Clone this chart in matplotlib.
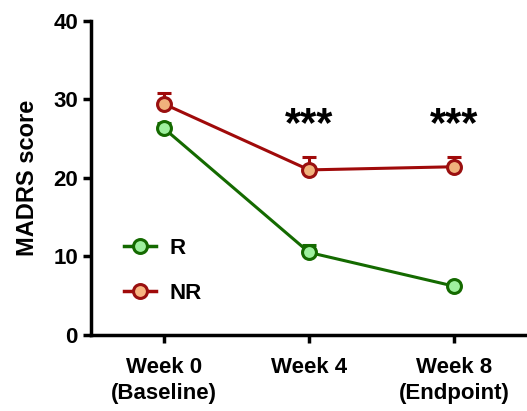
import matplotlib
matplotlib.use("Agg")
import matplotlib.pyplot as plt
from matplotlib.lines import Line2D

# values
weeks = ["Week 0\n(Baseline)", "Week 4", "Week 8\n(Endpoint)"]
r_mean = [26.3, 10.5, 6.2]
r_err = [0.7, 1.0, 0.4]
nr_mean = [29.4, 21.0, 21.4]
nr_err = [1.4, 1.7, 1.3]
stars = ["", "***", "***"]

plt.rcParams["font.family"] = ["Liberation Sans", "DejaVu Sans"]
plt.rcParams["font.weight"] = "bold"

green = "#146a00"
red = "#a00a0a"

fig = plt.figure(figsize=(5.27, 4.11), dpi=100)
ax = fig.add_axes([0.173, 0.185, 0.827, 0.765])

x = list(range(len(weeks)))

ax.errorbar(x, r_mean, yerr=[[0] * 3, r_err], color=green, lw=2.2,
            marker="o", ms=10, mfc="#9ef09e", mec=green, mew=2.2,
            capsize=5, capthick=3, elinewidth=2.2, zorder=3)
ax.errorbar(x, nr_mean, yerr=[[0] * 3, nr_err], color=red, lw=2.2,
            marker="o", ms=10, mfc="#f0b27c", mec="#9a1010", mew=2.2,
            capsize=5, capthick=3, elinewidth=2.2, zorder=3)

for i, s in enumerate(stars):
    if s:
        ax.text(x[i], 26.7, s, ha="center", va="center", fontsize=30,
                fontweight="bold")

ax.set_xlim(-0.5, 2.5)
ax.set_ylim(0, 40)
ax.set_yticks([0, 10, 20, 30, 40])
ax.set_xticks(x)
ax.set_xticklabels(weeks, fontsize=16, fontweight="bold", linespacing=1.3)
ax.tick_params(axis="y", labelsize=16, width=2.5, length=6)
ax.tick_params(axis="x", width=2.5, length=6, pad=10)
for lab in ax.get_yticklabels():
    lab.set_fontweight("bold")
ax.set_ylabel("MADRS score", fontsize=17, fontweight="bold", labelpad=10)

ax.spines["top"].set_visible(False)
ax.spines["right"].set_visible(False)
ax.spines["left"].set_linewidth(2.5)
ax.spines["bottom"].set_linewidth(2.5)

handles = [
    Line2D([], [], color=green, lw=2.5, marker="o", ms=10, mfc="#9ef09e",
           mec=green, mew=2.2),
    Line2D([], [], color=red, lw=2.5, marker="o", ms=10, mfc="#f7b582",
           mec="#9a1010", mew=2.2),
]
leg = ax.legend(handles, ["R", "NR"], loc="lower left",
                bbox_to_anchor=(0.03, 0.035), frameon=False,
                fontsize=16, handlelength=1.45, labelspacing=1.1,
                handletextpad=0.6)
for t in leg.get_texts():
    t.set_fontweight("bold")

fig.savefig("out.png", dpi=100)
